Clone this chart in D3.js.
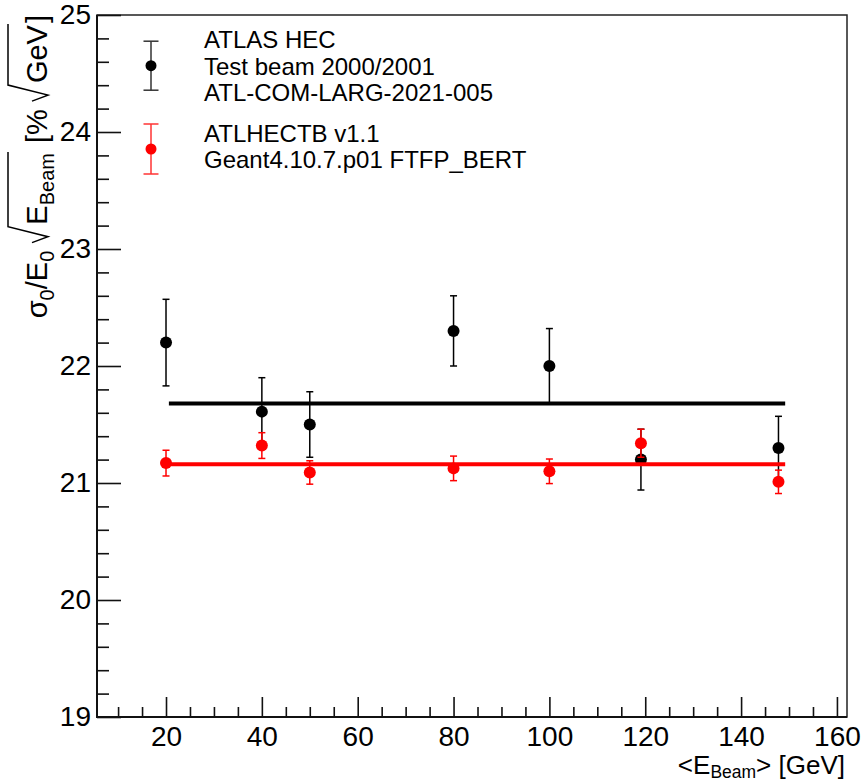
<!DOCTYPE html>
<html>
<head>
<meta charset="utf-8">
<script src="https://cdn.jsdelivr.net/npm/d3@7"></script>
<style>
  html, body { margin: 0; padding: 0; background: #fff; }
  svg { display: block; font-family: "Liberation Sans", Arial, Helvetica, sans-serif; }
</style>
</head>
<body>
<script>
// beam energies [GeV]
var energies = [20, 40, 50, 80, 100, 119.1, 147.8]

// test beam data
var dataValues = [22.20, 21.61, 21.50, 22.30, 22.00, 21.20, 21.30],
    dataErrors = [0.37, 0.29, 0.28, 0.30, 0.32, 0.26, 0.27]

// ATLHECTB simulation
var simValues = [21.17, 21.32, 21.09, 21.125, 21.10, 21.34, 21.01],
    simErrors = [0.11, 0.11, 0.10, 0.105, 0.105, 0.12, 0.10]

// constant fits
var fitRange = [20.6, 149.2],
    fitValues = { data: 21.68, sim: 21.16 }

var xMajorTicks = [20, 40, 60, 80, 100, 120, 140, 160],
    xMinorTicks = d3.range(10, 161, 5).filter(v => v % 20 !== 0),
    yMajorTicks = [19, 20, 21, 22, 23, 24, 25],
    yMinorTicks = d3.range(19, 25.01, 0.2).map(v => +v.toFixed(1)).filter(v => Math.abs(v - Math.round(v)) > 0.01)

var legendEntries = [
    { color: "#000", bar: "#333", lines: ["ATLAS HEC", "Test beam 2000/2001", "ATL-COM-LARG-2021-005"] },
    { color: "#f00", bar: "#f33", lines: ["ATLHECTB v1.1", "Geant4.10.7.p01 FTFP_BERT"] }
]

var width = 863, height = 781,
    frame = { left: 97, right: 847, top: 15, bottom: 717 }

var svg = d3.select("body").append("svg")
    .attr("width", width)
    .attr("height", height)

var x = d3.scaleLinear().domain([5.6, 162.1]).range([frame.left, frame.right]),
    y = d3.scaleLinear().domain([19, 25]).range([frame.bottom, frame.top])

// frame
svg.append("rect")
    .attr("x", frame.left).attr("y", frame.top)
    .attr("width", frame.right - frame.left).attr("height", frame.bottom - frame.top)
    .attr("fill", "none").attr("stroke", "#222").attr("stroke-width", 1.5)

// axes (ticks point into the plot, ROOT style)
function styleAxis(g, size) {
    g.select(".domain").remove()
    g.selectAll(".tick line").attr("stroke", "#111").attr("stroke-width", 1.6)
    g.selectAll("text").attr("font-size", size).attr("fill", "#000")
        .attr("font-family", "Liberation Sans, Arial, sans-serif")
}

svg.append("g").attr("transform", "translate(0," + frame.bottom + ")")
    .call(d3.axisBottom(x).tickValues(xMinorTicks).tickSize(-10).tickFormat(""))
    .call(g => styleAxis(g, 28))
svg.append("g").attr("transform", "translate(0," + frame.bottom + ")")
    .call(d3.axisBottom(x).tickValues(xMajorTicks).tickSize(-20).tickPadding(9).tickFormat(d3.format("d")))
    .call(g => styleAxis(g, 28))

svg.append("g").attr("transform", "translate(" + frame.left + ",0)")
    .call(d3.axisLeft(y).tickValues(yMinorTicks).tickSize(-12).tickFormat(""))
    .call(g => styleAxis(g, 28))
svg.append("g").attr("transform", "translate(" + frame.left + ",0)")
    .call(d3.axisLeft(y).tickValues(yMajorTicks).tickSize(-24).tickPadding(6).tickFormat(d3.format("d")))
    .call(g => styleAxis(g, 28))

svg.append("path")
    .attr("d", "M" + frame.left + "," + frame.top + "V" + frame.bottom + "H" + frame.right)
    .attr("fill", "none").attr("stroke", "#111").attr("stroke-width", 2)

// x title  <E_Beam> [GeV]
var xTitle = svg.append("text")
    .attr("x", 845).attr("y", 774)
    .attr("text-anchor", "end")
    .attr("font-size", 26)
xTitle.append("tspan").text("<E")
xTitle.append("tspan").attr("font-size", 17.5).attr("dy", 4).text("Beam")
xTitle.append("tspan").attr("dy", -4).text("> [GeV]")

// y title  sigma_0/E_0 sqrt(E_Beam) [% sqrt(GeV)], laid out piece by piece
var yTitle = svg.append("g").attr("transform", "translate(47,0) rotate(-90)"),
    titleSize = 29,
    subSize = 20,
    pieces = [
        { t: "σ" }, { t: "0", sub: true }, { t: "/E" }, { t: "0", sub: true }, { t: " " },
        { sqrt: "open" }, { t: "E" }, { t: "Beam", sub: true }, { sqrt: "close" },
        { t: " [% " }, { sqrt: "open" }, { t: "GeV" }, { sqrt: "close" }, { t: "]" }
    ]

var cursor = 0, roots = [], openAt = null
pieces.forEach(function (p) {
    if (p.sqrt === "open") {
        openAt = cursor
        cursor += 18
        return
    }
    if (p.sqrt === "close") {
        roots.push([openAt, cursor + 1])
        cursor += 2
        return
    }
    var node = yTitle.append("text")
        .attr("x", cursor)
        .attr("y", p.sub ? 7 : 0)
        .attr("font-size", p.sub ? subSize : titleSize)
        .attr("xml:space", "preserve")
        .style("white-space", "pre")
        .text(p.t)
    cursor += node.node().getComputedTextLength()
})

roots.forEach(function (r) {
    var x0 = r[0], x1 = r[1], top = -39
    yTitle.append("path")
        .attr("d", "M" + x0 + ",-15 L" + (x0 + 6) + ",1 L" + (x0 + 16) + "," + top + " L" + x1 + "," + top)
        .attr("fill", "none").attr("stroke", "#000").attr("stroke-width", 1.5)
})

// right-align title to the top of the frame
yTitle.selectAll("text, path").attr("transform", "translate(" + (-15 - cursor) + ",0)")

// markers with error bars
function drawSeries(values, errors, color) {
    var g = svg.append("g")
    var pts = g.selectAll("g").data(energies.map((e, i) => ({ e: e, v: values[i], s: errors[i] })))
        .enter().append("g")
    pts.append("line")
        .attr("x1", d => x(d.e)).attr("x2", d => x(d.e))
        .attr("y1", d => y(d.v - d.s)).attr("y2", d => y(d.v + d.s))
        .attr("stroke", color).attr("stroke-width", 1.5)
    pts.selectAll(".cap").data(d => [d.v - d.s, d.v + d.s].map(v => ({ e: d.e, v: v })))
        .enter().append("line")
        .attr("x1", d => x(d.e) - 3.5).attr("x2", d => x(d.e) + 3.5)
        .attr("y1", d => y(d.v)).attr("y2", d => y(d.v))
        .attr("stroke", color).attr("stroke-width", 1.5)
    pts.append("circle")
        .attr("cx", d => x(d.e)).attr("cy", d => y(d.v))
        .attr("r", 6).attr("fill", color)
}

drawSeries(dataValues, dataErrors, "#000")
drawSeries(simValues, simErrors, "#f00")

function drawFit(value, color) {
    svg.append("line")
        .attr("x1", x(fitRange[0])).attr("x2", x(fitRange[1]))
        .attr("y1", y(value)).attr("y2", y(value))
        .attr("stroke", color).attr("stroke-width", 4)
}

drawFit(fitValues.data, "#000")
drawFit(fitValues.sim, "#f00")

// legend
var legendRows = [{ cy: 65.7, half: 24.5, baselines: [48, 74.5, 101] }, { cy: 149, half: 25, baselines: [141.7, 167.7] }]
legendEntries.forEach(function (entry, i) {
    var row = legendRows[i], cx = 151,
        g = svg.append("g")
    g.append("line").attr("x1", cx).attr("x2", cx)
        .attr("y1", row.cy - row.half).attr("y2", row.cy + row.half)
        .attr("stroke", entry.bar).attr("stroke-width", 1.5)
    ;[row.cy - row.half, row.cy + row.half].forEach(function (cy) {
        g.append("line").attr("x1", cx - 7.5).attr("x2", cx + 7.5)
            .attr("y1", cy).attr("y2", cy)
            .attr("stroke", entry.bar).attr("stroke-width", 1.5)
    })
    g.append("circle").attr("cx", cx).attr("cy", row.cy).attr("r", 5.5).attr("fill", entry.color)
    entry.lines.forEach(function (line, j) {
        g.append("text").attr("x", 204).attr("y", row.baselines[j])
            .attr("font-size", 24).attr("fill", "#000").text(line)
    })
})
</script>
</body>
</html>
